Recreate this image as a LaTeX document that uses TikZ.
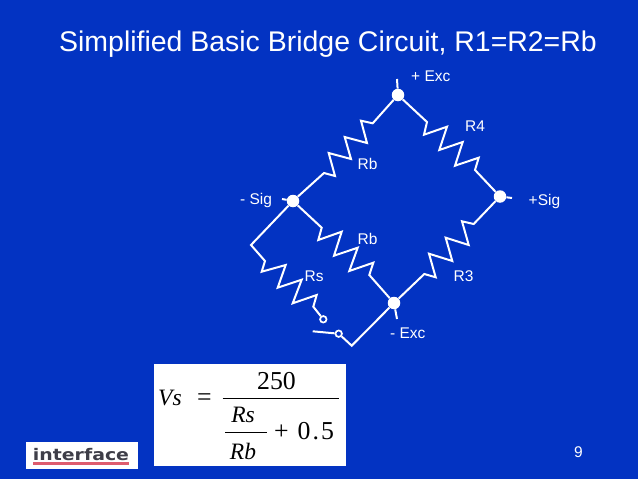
\documentclass[tikz,border=0pt]{standalone}
\usepackage{fontspec}
\setmainfont{Liberation Sans}
\newfontfamily\eqfont{Liberation Serif}
\newfontfamily\logofont[FakeStretch=1.18]{DejaVu Sans}
\usepackage{tikz}
\definecolor{slideblue}{RGB}{3,51,194}
\definecolor{logored}{RGB}{222,92,110}
\definecolor{logogray}{RGB}{62,62,72}

\begin{document}
\begin{tikzpicture}[
x = 1pt, y = -1pt,
wire/.style={draw = white, line width = 2, line join = miter},
joint/.style={circle, fill = white, inner sep = 0, minimum size = 12.5pt},
contact/.style={circle, draw = white, line width = 1.7, inner sep = 0, minimum size = 6.5pt},
lbl/.style={text = white, font = \fontsize{15.5}{15.5}\selectfont, inner sep = 0, anchor = base west},
eqn/.style={text = black, font = \eqfont\fontsize{25.8}{26}\selectfont, inner sep = 0},
eqit/.style={text = black, font = \eqfont\itshape\fontsize{23.5}{24}\selectfont, inner sep = 0}]

\useasboundingbox (0,0) rectangle (638,479);
\fill[slideblue] (0,0) rectangle (638,479);

\node[text = white, font = \fontsize{28.45}{29}\selectfont, inner sep = 0, anchor = base west] (title) at (59,52) {Simplified Basic Bridge Circuit, R1=R2=Rb};

% bridge joints
\node[joint] (top) at (398,95) {};
\node[joint] (left) at (293,201) {};
\node[joint] (right) at (500,196.5) {};
\node[joint] (bottom) at (394,303) {};
\coordinate (topend) at (397,79);
\coordinate (leftend) at (282,199);
\coordinate (rightend) at (512,198);
\coordinate (bottomend) at (397,319);
\draw[wire] (top) -- (topend);
\draw[wire] (left) -- (leftend);
\draw[wire] (right) -- (rightend);
\draw[wire] (bottom) -- (bottomend);

% resistors
\draw[wire] (top) -- (372.7,123.3) -- (361,120.7) -- (367,143) -- (344.7,137) -- (351,159) -- (328.7,153) -- (335,176) -- (324,173) -- (left);
\draw[wire] (top) -- (427,122) -- (424,134.7) -- (447,126.7) -- (439.3,150) -- (462.7,142) -- (455,165.7) -- (478.7,157.7) -- (475,170) -- (right);
\draw[wire] (left) -- (321.7,227.7) -- (318.3,240) -- (341.7,231.7) -- (334,255.7) -- (357.7,247.7) -- (349.3,271) -- (373.3,262.7) -- (369.3,275) -- (bottom);
\draw[wire] (bottom) -- (424.3,274) -- (435.7,277.3) -- (429,253.7) -- (452.3,261) -- (445.7,237.7) -- (468.7,245) -- (462,221.3) -- (473.7,224) -- (right);

% shunt
\node[contact] (upper) at (323.3,319.3) {};
\node[contact] (lower) at (338.7,333.7) {};
\coordinate (swend) at (312.7,331.3);
\draw[wire] (left) -- (251,245) -- (265,261) -- (261.7,271.7) -- (285.7,265) -- (277.7,287.7) -- (301.7,279.7) -- (292.7,303.3) -- (316.7,295) -- (313.3,306.7) -- (upper);
\draw[wire] (swend) -- (lower);
\draw[wire] (lower) -- (351.7,345.7) -- (bottom);

\node[lbl] (exctop) at (411,81.5) {+ Exc};
\node[lbl] (rfour) at (465,131.5) {R4};
\node[lbl] (rbtop) at (357.5,169) {Rb};
\node[lbl] (sigleft) at (240,204.5) {- Sig};
\node[lbl] (sigright) at (528.5,205) {+Sig};
\node[lbl] (rbbot) at (357.5,244) {Rb};
\node[lbl] (rs) at (304.5,281) {Rs};
\node[lbl] (rthree) at (453.5,281) {R3};
\node[lbl] (excbot) at (390,338) {- Exc};
\node[lbl] (page) at (574,457) {9};

% formula
\fill[white] (153.5,364) rectangle (345.5,465.5);
\node[eqit, anchor = base west] (vs) at (158,405) {Vs};
\node[eqn, anchor = base west] (eq) at (197,405) {=};
\node[eqn, anchor = base] (num) at (276.5,389) {250};
\coordinate (barl) at (222.5,398);
\coordinate (barr) at (338.5,398);
\draw[black, line width = 0.9] (barl) -- (barr);
\node[eqit, anchor = base] (rsn) at (243,422) {Rs};
\coordinate (subl) at (225,432.5);
\coordinate (subr) at (267,432.5);
\draw[black, line width = 0.7] (subl) -- (subr);
\node[eqit, anchor = base] (rbd) at (243,459) {Rb};
\node[eqn, anchor = base west] (plus) at (274,439) {+};
\node[eqn, anchor = base west] (half) at (297.5,439) {0\kern2pt.\kern2pt5};

% logo
\fill[white] (25.5,441.5) rectangle (137.5,469);
\node[text = logogray, font = \logofont\bfseries\fontsize{16}{16}\selectfont, inner sep = 0, anchor = base] (logo) at (81,460.5) {interface};
\fill[logored] (33,461.5) rectangle (129,465);

\end{tikzpicture}
\end{document}
